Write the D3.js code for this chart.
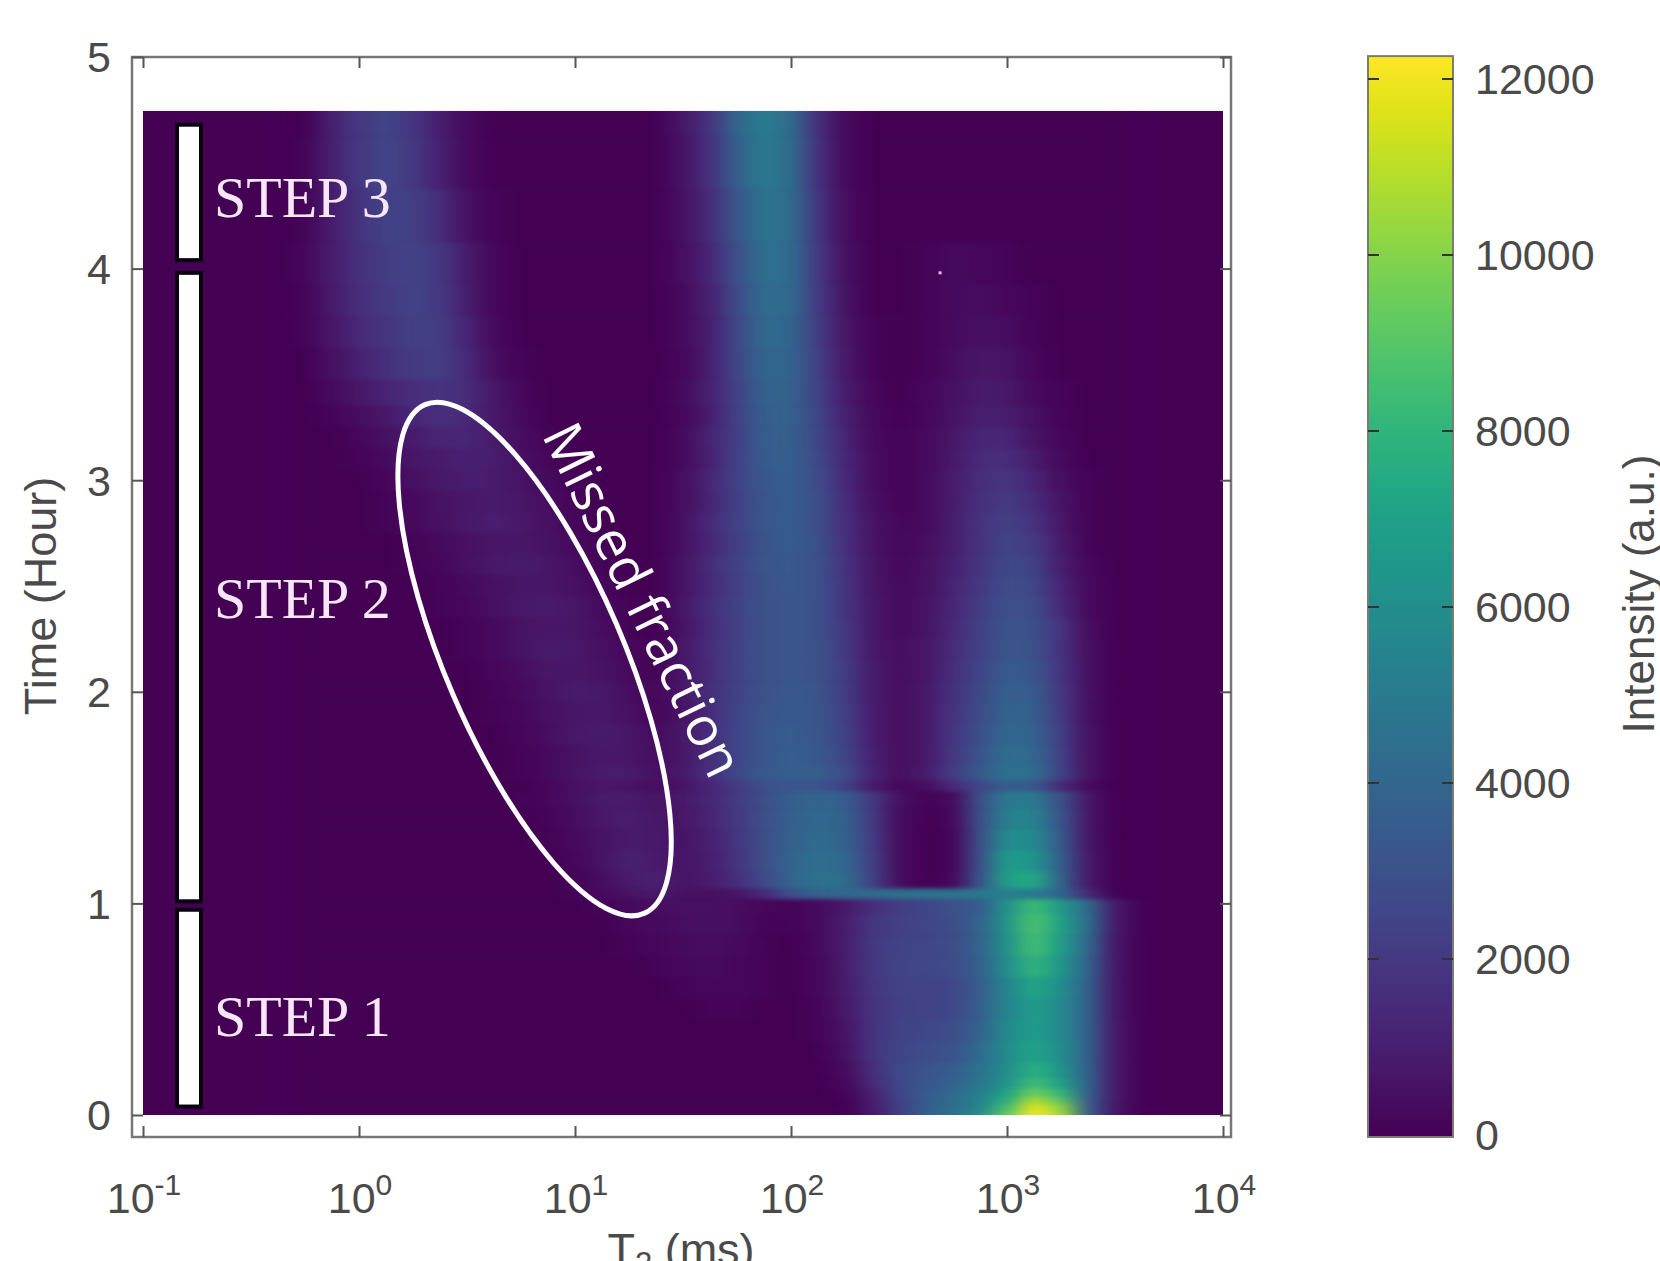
<!DOCTYPE html>
<meta charset="utf-8">
<title>T2 distribution over time</title>
<style>
  html, body { margin: 0; padding: 0; background: #fff; overflow: hidden; }
  text { font-family: "Liberation Sans", Arial, sans-serif; fill: #4a4a4a; }
</style>
<script src="https://d3js.org/d3.v7.min.js"></script>
<body>
<svg id="chart" width="1660" height="1261"></svg>
<script>

// log10 of T2 (ms) at the centre of each column
var t2Exponents = [-0.25,-0.125,0,0.125,0.25,0.375,0.5,0.625,0.75,0.875,1,1.125,1.25,1.375,1.5,1.625,1.75,1.875,2,2.125,2.25,2.375,2.5,2.625,2.75,2.875,3,3.125,3.25,3.375,3.5];

// time (hour) of each row, top of the map first
var timeRows = [4.75,4.5,4.25,4,3.85,3.7,3.55,3.4,3.3,3.2,3.1,3,2.9,2.8,2.7,2.6,2.5,2.4,2.3,2.2,2.1,2,1.9,1.8,1.7,1.6,1.56,1.5,1.4,1.3,1.2,1.1,1.04,1,0.9,0.8,0.7,0.6,0.5,0.4,0.3,0.2,0.15,0.1,0.07,0.04,0];

// intensity in hundreds, one line per timeRows entry
var intensityRows = [
  [0,11,20,25,19,10,3,0,0,0,0,0,0,0, 7,18,40,52,42,16,3, 0,0,0,0,0,0,0,0,0,0],
  [1,11,20,25,20,11,3,0,0,0,0,0,0,0, 6,17,37,50,43,17,3, 0,0,0,0,0,0,0,0,0,0],
  [1,10,18,24,23,15,5,1,0,0,0,0,0,0, 5,15,33,47,43,19,4, 0,0,0,0,0,0,0,0,0,0],
  [2,10,17,22,24,20,9,2,0,0,0,0,0,0, 4,13,30,45,43,20,5, 0,0,1,3,2,1,0,0,0,0],
  [1,9,16,21,24,21,10,2,0,0,0,0,0,0, 3,11,28,43,42,21,6, 0,0,1,3,4,2,1,0,0,0],
  [1,7,14,19,23,22,12,3,0,0,0,0,0,0, 3,10,26,42,40,22,7, 1,0,1,3,5,4,1,0,0,0],
  [0,5,11,17,21,22,14,4,1,0,0,0,0,0, 2,10,26,40,39,23,8, 1,0,1,4,7,6,2,0,0,0],
  [0,3,7,12,16,18,15,8,2,0,0,0,0,0, 3,11,24,38,38,24,9, 2,0,2,5,9,8,3,1,0,0],
  [0,1,4,8,13,16,14,8,3,0,0,0,0,0, 2,10,24,37,38,25,11, 3,0,2,6,11,10,5,1,0,0],
  [0,0,2,5,9,12,13,9,4,1,0,0,0,0, 3,12,23,36,37,26,12, 3,1,3,7,13,13,6,2,0,0],
  [0,0,1,3,7,9,11,10,5,2,0,0,0,0, 3,11,24,35,37,27,13, 4,1,3,8,15,16,9,3,0,0],
  [0,0,0,2,5,8,10,9,6,3,1,0,0,0, 4,13,24,34,36,28,14, 4,1,3,9,16,19,12,4,1,0],
  [0,0,0,1,3,6,7,9,7,4,1,0,0,0, 4,12,23,33,36,29,15, 5,1,3,9,17,21,15,6,1,0],
  [0,0,0,1,3,5,8,10,8,5,2,0,0,0, 5,14,24,33,35,29,16, 6,2,3,10,18,23,18,7,1,0],
  [0,0,0,0,1,3,5,7,7,6,3,1,0,0, 5,13,23,32,35,30,17, 6,2,4,10,18,25,21,9,1,0],
  [0,0,0,0,1,2,5,8,9,7,4,1,0,0, 6,15,24,32,34,30,18, 7,2,5,11,19,27,24,10,2,0],
  [0,0,0,0,0,1,3,5,7,7,5,2,0,0, 6,14,23,31,34,30,19, 7,3,5,12,20,29,26,12,3,0],
  [0,0,0,0,0,1,2,5,8,9,7,3,1,0, 7,16,24,31,33,30,19, 8,3,6,13,22,30,28,14,3,0],
  [0,0,0,0,0,0,1,3,6,7,7,4,1,0, 6,15,23,31,33,30,20, 8,3,6,14,23,32,30,18,4,0],
  [0,0,0,0,0,0,1,3,6,9,8,5,2,1, 7,16,24,31,33,31,21, 8,4,7,15,24,33,31,18,5,0],
  [0,0,0,0,0,0,0,2,4,7,7,6,3,1, 7,15,24,31,33,31,22, 9,4,7,16,25,35,33,19,5,0],
  [0,0,0,0,0,0,0,1,3,6,9,8,4,2, 7,16,24,31,34,32,22, 9,4,8,17,27,37,35,20,5,0],
  [0,0,0,0,0,0,0,1,2,5,7,8,5,2, 6,15,25,32,34,33,23, 10,4,8,18,28,39,37,21,5,0],
  [0,0,0,0,0,0,0,0,2,4,8,9,7,3, 8,16,25,33,35,33,24, 10,4,8,19,30,41,39,22,6,0],
  [0,0,0,0,0,0,0,0,1,3,6,8,7,4, 7,16,25,33,36,34,25, 11,4,8,20,32,44,41,23,6,0],
  [0,0,0,0,0,0,0,0,1,3,6,9,9,5, 8,17,26,34,36,36,28, 12,4,9,22,34,46,44,24,6,0],
  [0,0,0,0,0,0,0,0,0,2,5,7,6,4, 6,13,21,30,33,32,24, 9,2,4,14,26,36,34,14,3,0],
  [0,0,0,0,0,0,0,0,1,2,5,9,9,6, 8,13,21,29,36,40,36, 20,5,1,3,30,50,50,30,7,0],
  [0,0,0,0,0,0,0,0,0,1,4,8,10,7, 7,12,20,29,37,41,38, 21,4,0,2,30,54,54,32,7,0],
  [0,0,0,0,0,0,0,0,0,1,3,6,9,8, 6,11,19,29,38,42,39, 22,4,0,1,30,60,58,34,7,0],
  [0,0,0,0,0,0,0,0,0,0,2,6,11,9, 6,10,18,29,39,44,41, 23,4,0,1,30,68,64,36,8,0],
  [0,0,0,0,0,0,0,0,0,0,1,4,9,11, 6,9,16,27,39,46,44, 24,4,0,2,32,70,74,38,8,0],
  [0,0,0,0,0,0,0,0,0,0,1,3,6,8, 5,5,6,14,30,38,40, 42,44,46,46,48,52,50,40,14,0],
  [0,0,0,0,0,0,0,0,0,0,0,1,3,4, 5,5,4,2,1,3,8, 16,22,25,30,35,62,84,66,42,8],
  [0,0,0,0,0,0,0,0,0,0,0,0,2,3, 4,5,4,1,1,3,10, 19,23,25,28,38,64,88,70,43,8],
  [0,0,0,0,0,0,0,0,0,0,0,0,1,2, 3,4,3,1,0,3,10, 20,24,25,28,38,62,86,68,41,7],
  [0,0,0,0,0,0,0,0,0,0,0,0,0,1, 2,3,2,1,0,2,10, 20,25,26,28,37,60,80,64,39,7],
  [0,0,0,0,0,0,0,0,0,0,0,0,0,0, 1,2,2,1,0,2,9, 19,24,24,26,35,56,72,60,37,7],
  [0,0,0,0,0,0,0,0,0,0,0,0,0,0, 0,1,1,0,0,1,8, 18,23,24,26,36,56,68,58,37,7],
  [0,0,0,0,0,0,0,0,0,0,0,0,0,0, 0,0,0,0,0,1,6, 18,24,26,28,38,58,68,58,37,8],
  [0,0,0,0,0,0,0,0,0,0,0,0,0,0, 0,0,0,0,0,0,5, 18,25,28,31,42,59,71,60,37,8],
  [0,0,0,0,0,0,0,0,0,0,0,0,0,0, 0,0,0,0,0,0,3, 16,27,32,36,46,60,78,64,37,8],
  [0,0,0,0,0,0,0,0,0,0,0,0,0,0, 0,0,0,0,0,0,2, 14,26,33,38,48,63,85,70,37,8],
  [0,0,0,0,0,0,0,0,0,0,0,0,0,0, 0,0,0,0,0,0,1, 11,25,35,42,52,70,96,80,37,8],
  [0,0,0,0,0,0,0,0,0,0,0,0,0,0, 0,0,0,0,0,0,0, 10,24,35,43,54,76,108,90,36,8],
  [0,0,0,0,0,0,0,0,0,0,0,0,0,0, 0,0,0,0,0,0,0, 9,23,36,44,56,84,118,100,36,7],
  [0,0,0,0,0,0,0,0,0,0,0,0,0,0, 0,0,0,0,0,0,0, 8,22,36,45,60,92,124,106,34,7]
];

var intensityUnit = 100;
var intensityMax = 12260;

var xTickExponents = [-1, 0, 1, 2, 3, 4];
var yTicks = [0, 1, 2, 3, 4, 5];
var colorTicks = [0, 2000, 4000, 6000, 8000, 10000, 12000];

// annotation strip, times in hours
var stepNames = ["STEP 1", "STEP 2", "STEP 3"];
var stepStart = [0.04, 1.01, 4.04];
var stepEnd = [0.97, 3.98, 4.68];
var stepLabelTime = [0.465, 2.44, 4.335];

// the lone bright pixel above the long T2 band
var strayPoint = { t2: 490, time: 3.98 };
// hand drawn ellipse centre
var missedCentre = { t2: 6.5, time: 2.155 };

var svg = d3.select("#chart");

var x = d3.scaleLog().domain([0.1, 10000]).range([143, 1223]);
var y = d3.scaleLinear().domain([0, 5]).range([1115, 57]);
var frame = { left: 132, right: 1231, top: 57, bottom: 1137 };
var color = d3.scaleSequential(d3.interpolateViridis).domain([0, intensityMax]);

var defs = svg.append("defs");
defs.append("clipPath").attr("id", "mapClip").append("rect")
    .attr("x", x.range()[0]).attr("width", x.range()[1] - x.range()[0])
    .attr("y", y(4.745)).attr("height", y(0) - y(4.745));
defs.append("filter").attr("id", "smear")
    .attr("filterUnits", "userSpaceOnUse")
    .attr("x", 0).attr("y", 0).attr("width", 1660).attr("height", 1261)
    .attr("color-interpolation-filters", "sRGB")
  .append("feGaussianBlur").attr("stdDeviation", "11 2.2");

// map background then the blurred cells
svg.append("rect")
    .attr("x", x.range()[0]).attr("width", x.range()[1] - x.range()[0])
    .attr("y", y(4.745)).attr("height", y(0) - y(4.745))
    .attr("fill", color(0));

function rowTop(i) { return i === 0 ? y(4.745) - 40 : y((timeRows[i] + timeRows[i - 1]) / 2); }
function rowBottom(i) { return i === timeRows.length - 1 ? y(0) + 40 : y((timeRows[i] + timeRows[i + 1]) / 2); }

var cells = [];
intensityRows.forEach(function(row, i) {
  row.forEach(function(v, j) {
    cells.push({ row: i, exponent: t2Exponents[j], value: v * intensityUnit });
  });
});

svg.append("g").attr("clip-path", "url(#mapClip)")
  .append("g").attr("filter", "url(#smear)")
  .selectAll("rect").data(cells).join("rect")
    .attr("x", function(d) { return x(Math.pow(10, d.exponent - 0.0625)); })
    .attr("width", function(d) { return x(Math.pow(10, d.exponent + 0.0625)) - x(Math.pow(10, d.exponent - 0.0625)) + 0.5; })
    .attr("y", function(d) { return rowTop(d.row); })
    .attr("height", function(d) { return rowBottom(d.row) - rowTop(d.row) + 0.5; })
    .attr("fill", function(d) { return color(d.value); });

svg.append("rect")
    .attr("x", x(strayPoint.t2) - 1.5).attr("y", y(strayPoint.time) - 1.5)
    .attr("width", 3).attr("height", 3).attr("fill", "#e9b8ea");

// frame and ticks
svg.append("rect")
    .attr("x", frame.left).attr("y", frame.top)
    .attr("width", frame.right - frame.left).attr("height", frame.bottom - frame.top)
    .attr("fill", "none").attr("stroke", "#777").attr("stroke-width", 2.5);

function styleAxis(g) {
  g.select(".domain").remove();
  g.selectAll("line").attr("stroke", "#555").attr("stroke-width", 2);
  g.selectAll("text").remove();
}

var tickValues = xTickExponents.map(function(e) { return Math.pow(10, e); });
svg.append("g").attr("transform", "translate(0," + frame.bottom + ")")
    .call(d3.axisBottom(x).tickValues(tickValues).tickSize(-11)).call(styleAxis);
svg.append("g").attr("transform", "translate(0," + frame.top + ")")
    .call(d3.axisTop(x).tickValues(tickValues).tickSize(-11)).call(styleAxis);
svg.append("g").attr("transform", "translate(" + frame.left + ",0)")
    .call(d3.axisLeft(y).tickValues(yTicks).tickSize(-11)).call(styleAxis);
svg.append("g").attr("transform", "translate(" + frame.right + ",0)")
    .call(d3.axisRight(y).tickValues(yTicks).tickSize(-11)).call(styleAxis);

// x tick labels with superscripts
var xLabels = svg.append("g").selectAll("text").data(xTickExponents).join("text")
    .attr("x", function(e) { return x(Math.pow(10, e)) + 1; })
    .attr("y", 1213)
    .attr("text-anchor", "middle")
    .attr("font-size", 43);
xLabels.append("tspan").text("10");
xLabels.append("tspan").attr("dy", -18).attr("font-size", 30).text(function(e) { return e; });

svg.append("g").selectAll("text").data(yTicks).join("text")
    .attr("x", 111)
    .attr("y", function(d) { return y(d); })
    .attr("dy", "0.36em")
    .attr("text-anchor", "end")
    .attr("font-size", 43)
    .text(function(d) { return d; });

var xTitle = svg.append("text")
    .attr("x", 681).attr("y", 1265)
    .attr("text-anchor", "middle").attr("font-size", 45);
xTitle.append("tspan").text("T");
xTitle.append("tspan").attr("dy", 9).attr("font-size", 31).text("2");
xTitle.append("tspan").attr("dy", -9).text(" (ms)");

svg.append("text")
    .attr("transform", "translate(56,596) rotate(-90)")
    .attr("text-anchor", "middle").attr("font-size", 45)
    .text("Time (Hour)");

// step strip
var stepX = 177, stepW = 24;
svg.append("g").selectAll("rect").data(stepNames).join("rect")
    .attr("x", stepX)
    .attr("width", stepW)
    .attr("y", function(d, i) { return y(stepEnd[i]); })
    .attr("height", function(d, i) { return y(stepStart[i]) - y(stepEnd[i]); })
    .attr("fill", "#fff").attr("stroke", "#0a0010").attr("stroke-width", 4);

svg.append("g").selectAll("text").data(stepNames).join("text")
    .attr("x", 214)
    .attr("y", function(d, i) { return y(stepLabelTime[i]) + 19; })
    .attr("font-size", 58)
    .style("font-family", "'Liberation Serif', 'Times New Roman', serif")
    .style("fill", "#f6e6f6")
    .text(function(d) { return d; });

// hand drawn annotation
var cx = x(missedCentre.t2), cy = y(missedCentre.time);
svg.append("ellipse")
    .attr("cx", 0).attr("cy", 0).attr("rx", 89).attr("ry", 277)
    .attr("transform", "translate(" + cx + "," + cy + ") rotate(-23.3)")
    .attr("fill", "none").attr("stroke", "#fff").attr("stroke-width", 5);

svg.append("text")
    .attr("transform", "translate(643,600) rotate(64)")
    .attr("text-anchor", "middle")
    .attr("dy", "0.35em")
    .attr("font-size", 54)
    .style("font-family", "'Open Sans', sans-serif")
    .style("fill", "#fff")
    .text("Missed fraction");

// colour bar
var barX = 1368, barW = 85;
var barY = d3.scaleLinear().domain([0, 12000]).range([1135, 79]);
var barGradient = defs.append("linearGradient").attr("id", "barFill")
    .attr("x1", 0).attr("y1", 1).attr("x2", 0).attr("y2", 0);
barGradient.selectAll("stop").data(d3.range(0, 21)).join("stop")
    .attr("offset", function(d) { return d / 20; })
    .attr("stop-color", function(d) { return color(intensityMax * d / 20); });
svg.append("rect")
    .attr("x", barX).attr("y", barY(intensityMax))
    .attr("width", barW).attr("height", barY(0) + 2 - barY(intensityMax))
    .attr("fill", "url(#barFill)").attr("stroke", "#7c7c70").attr("stroke-width", 2);

var barTicks = svg.append("g").selectAll("g").data(colorTicks).join("g")
    .attr("transform", function(d) { return "translate(0," + barY(d) + ")"; });
barTicks.filter(function(d) { return d > 0; }).append("path")
    .attr("d", "M" + barX + ",0h11M" + (barX + barW - 11) + ",0h11")
    .attr("stroke", "#333").attr("stroke-width", 2).attr("fill", "none");
barTicks.append("text")
    .attr("x", 1475).attr("dy", "0.36em")
    .attr("font-size", 43)
    .text(function(d) { return d; });

svg.append("text")
    .attr("transform", "translate(1654,594) rotate(-90)")
    .attr("text-anchor", "middle").attr("font-size", 44)
    .text("Intensity (a.u.)");

</script>
